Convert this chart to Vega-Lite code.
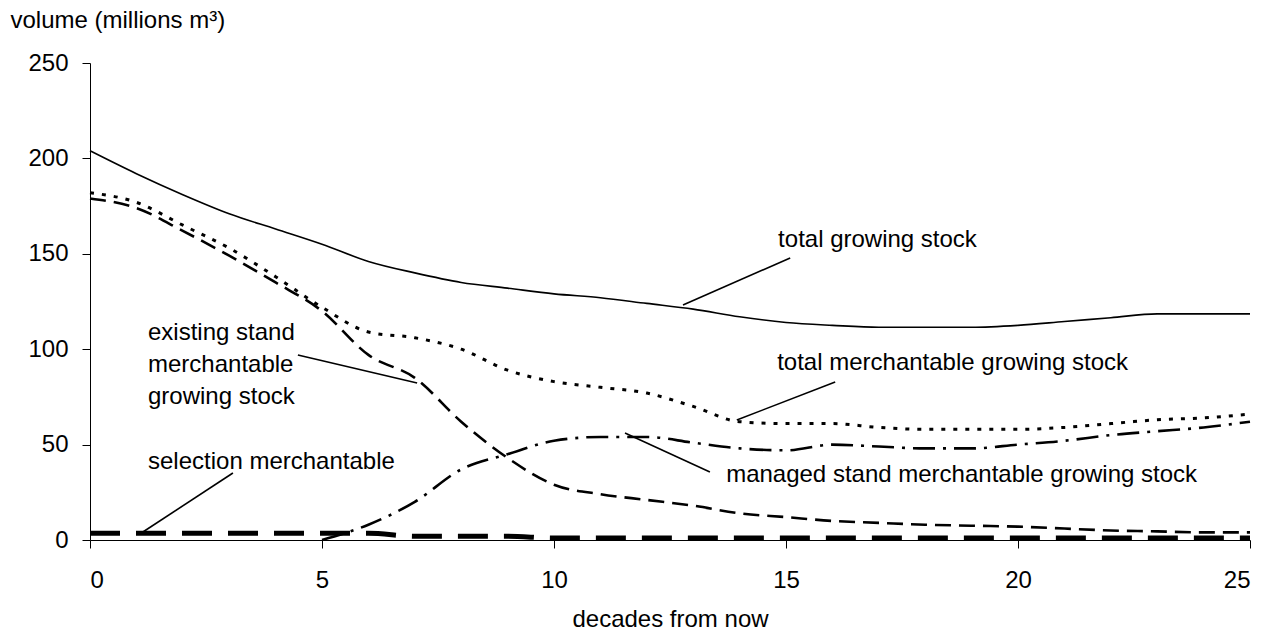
{
  "$schema": "https://vega.github.io/schema/vega-lite/v6.json",
  "width": 1160,
  "height": 477,
  "autosize": {"type": "none"},
  "padding": {"left": 90, "top": 63, "right": 20, "bottom": 92},
  "background": "white",
  "config": {
    "view": {"stroke": null},
    "font": "Liberation Sans",
    "axis": {
      "grid": false,
      "domainColor": "black",
      "domainWidth": 1,
      "tickColor": "black",
      "tickSize": 8,
      "labelFont": "Liberation Sans",
      "labelFontSize": 24,
      "labelColor": "black",
      "titleFont": "Liberation Sans",
      "titleFontSize": 24,
      "titleFontWeight": "normal",
      "titleColor": "black"
    }
  },
  "datasets": {
    "series": [
      {"s": "total", "d": 0, "v": 204}, {"s": "total", "d": 1, "v": 192}, {"s": "total", "d": 2, "v": 181}, {"s": "total", "d": 3, "v": 171}, {"s": "total", "d": 4, "v": 163}, {"s": "total", "d": 5, "v": 155}, {"s": "total", "d": 6, "v": 146}, {"s": "total", "d": 7, "v": 140}, {"s": "total", "d": 8, "v": 135}, {"s": "total", "d": 9, "v": 132}, {"s": "total", "d": 10, "v": 129}, {"s": "total", "d": 11, "v": 127}, {"s": "total", "d": 12, "v": 124}, {"s": "total", "d": 13, "v": 121}, {"s": "total", "d": 14, "v": 117}, {"s": "total", "d": 15, "v": 114}, {"s": "total", "d": 16, "v": 112.5}, {"s": "total", "d": 17, "v": 111.5}, {"s": "total", "d": 18, "v": 111.5}, {"s": "total", "d": 19, "v": 111.5}, {"s": "total", "d": 20, "v": 112.5}, {"s": "total", "d": 21, "v": 114.5}, {"s": "total", "d": 22, "v": 116.5}, {"s": "total", "d": 23, "v": 118.5}, {"s": "total", "d": 24, "v": 118.5}, {"s": "total", "d": 25, "v": 118.5},
      {"s": "merch", "d": 0, "v": 182}, {"s": "merch", "d": 1, "v": 177}, {"s": "merch", "d": 2, "v": 165}, {"s": "merch", "d": 3, "v": 153}, {"s": "merch", "d": 4, "v": 138}, {"s": "merch", "d": 5, "v": 122}, {"s": "merch", "d": 6, "v": 109}, {"s": "merch", "d": 7, "v": 106}, {"s": "merch", "d": 8, "v": 100}, {"s": "merch", "d": 9, "v": 89}, {"s": "merch", "d": 10, "v": 83}, {"s": "merch", "d": 11, "v": 80}, {"s": "merch", "d": 12, "v": 77}, {"s": "merch", "d": 13, "v": 70}, {"s": "merch", "d": 14, "v": 62}, {"s": "merch", "d": 15, "v": 61}, {"s": "merch", "d": 16, "v": 61}, {"s": "merch", "d": 17, "v": 59}, {"s": "merch", "d": 18, "v": 58}, {"s": "merch", "d": 19, "v": 58}, {"s": "merch", "d": 20, "v": 58}, {"s": "merch", "d": 21, "v": 59}, {"s": "merch", "d": 22, "v": 61}, {"s": "merch", "d": 23, "v": 63}, {"s": "merch", "d": 24, "v": 64}, {"s": "merch", "d": 25, "v": 66},
      {"s": "existing", "d": 0, "v": 179}, {"s": "existing", "d": 1, "v": 174}, {"s": "existing", "d": 2, "v": 162}, {"s": "existing", "d": 3, "v": 149}, {"s": "existing", "d": 4, "v": 135}, {"s": "existing", "d": 5, "v": 120}, {"s": "existing", "d": 6, "v": 97}, {"s": "existing", "d": 7, "v": 85}, {"s": "existing", "d": 8, "v": 62}, {"s": "existing", "d": 9, "v": 43}, {"s": "existing", "d": 10, "v": 29}, {"s": "existing", "d": 11, "v": 24}, {"s": "existing", "d": 12, "v": 21}, {"s": "existing", "d": 13, "v": 18}, {"s": "existing", "d": 14, "v": 14}, {"s": "existing", "d": 15, "v": 12}, {"s": "existing", "d": 16, "v": 10}, {"s": "existing", "d": 17, "v": 9}, {"s": "existing", "d": 18, "v": 8}, {"s": "existing", "d": 19, "v": 7.5}, {"s": "existing", "d": 20, "v": 7}, {"s": "existing", "d": 21, "v": 6}, {"s": "existing", "d": 22, "v": 5}, {"s": "existing", "d": 23, "v": 4.5}, {"s": "existing", "d": 24, "v": 4}, {"s": "existing", "d": 25, "v": 4},
      {"s": "managed", "d": 5, "v": 0}, {"s": "managed", "d": 6, "v": 8}, {"s": "managed", "d": 7, "v": 20}, {"s": "managed", "d": 8, "v": 37}, {"s": "managed", "d": 9, "v": 45}, {"s": "managed", "d": 10, "v": 52}, {"s": "managed", "d": 11, "v": 54}, {"s": "managed", "d": 12, "v": 54}, {"s": "managed", "d": 13, "v": 51}, {"s": "managed", "d": 14, "v": 48}, {"s": "managed", "d": 15, "v": 47}, {"s": "managed", "d": 16, "v": 50}, {"s": "managed", "d": 17, "v": 49}, {"s": "managed", "d": 18, "v": 48}, {"s": "managed", "d": 19, "v": 48}, {"s": "managed", "d": 20, "v": 50}, {"s": "managed", "d": 21, "v": 52}, {"s": "managed", "d": 22, "v": 55}, {"s": "managed", "d": 23, "v": 57}, {"s": "managed", "d": 24, "v": 59}, {"s": "managed", "d": 25, "v": 62},
      {"s": "selection", "d": 0, "v": 3.5}, {"s": "selection", "d": 1, "v": 3.5}, {"s": "selection", "d": 2, "v": 3.5}, {"s": "selection", "d": 3, "v": 3.5}, {"s": "selection", "d": 4, "v": 3.5}, {"s": "selection", "d": 5, "v": 3.5}, {"s": "selection", "d": 6, "v": 3.5}, {"s": "selection", "d": 7, "v": 2}, {"s": "selection", "d": 8, "v": 2}, {"s": "selection", "d": 9, "v": 2}, {"s": "selection", "d": 10, "v": 1}, {"s": "selection", "d": 11, "v": 1}, {"s": "selection", "d": 12, "v": 1}, {"s": "selection", "d": 13, "v": 1}, {"s": "selection", "d": 14, "v": 1}, {"s": "selection", "d": 15, "v": 1}, {"s": "selection", "d": 16, "v": 1}, {"s": "selection", "d": 17, "v": 1}, {"s": "selection", "d": 18, "v": 1}, {"s": "selection", "d": 19, "v": 1}, {"s": "selection", "d": 20, "v": 1}, {"s": "selection", "d": 21, "v": 1}, {"s": "selection", "d": 22, "v": 1}, {"s": "selection", "d": 23, "v": 1}, {"s": "selection", "d": 24, "v": 1}, {"s": "selection", "d": 25, "v": 1}
    ],
    "leaders": [
      {"x1": 12.78, "y1": 123.2, "x2": 15.09, "y2": 147.8},
      {"x1": 13.94, "y1": 62.9, "x2": 16.06, "y2": 82.8},
      {"x1": 11.53, "y1": 56.1, "x2": 13.36, "y2": 35.6},
      {"x1": 4.48, "y1": 97.0, "x2": 7.05, "y2": 82.3},
      {"x1": 3.08, "y1": 35.1, "x2": 1.14, "y2": 4.2}
    ],
    "labels": [
      {"x": 14.83, "y": 157.2, "t": "total growing stock"},
      {"x": 14.81, "y": 92.8, "t": "total merchantable growing stock"},
      {"x": 13.71, "y": 34.1, "t": "managed stand merchantable growing stock"},
      {"x": 1.25, "y": 108.5, "t": "existing stand"},
      {"x": 1.25, "y": 91.7, "t": "merchantable"},
      {"x": 1.25, "y": 74.9, "t": "growing stock"},
      {"x": 1.25, "y": 40.9, "t": "selection merchantable"}
    ]
  },
  "encoding": {
    "x": {
      "field": "d", "type": "quantitative",
      "scale": {"domain": [0, 25], "nice": false, "zero": false},
      "axis": {"values": [0, 5, 10, 15, 20, 25], "labelPadding": 20, "title": "decades from now", "titleY": 86, "titleBaseline": "alphabetic"}
    },
    "y": {
      "field": "v", "type": "quantitative",
      "scale": {"domain": [0, 250], "nice": false},
      "axis": {"values": [0, 50, 100, 150, 200, 250], "labelPadding": 14, "title": "volume (millions m³)", "titleAngle": 0, "titleAlign": "left", "titleBaseline": "alphabetic", "titleX": -80, "titleY": -36}
    }
  },
  "layer": [
    {
      "data": {"name": "series"},
      "transform": [{"filter": "datum.s === 'total'"}],
      "mark": {"type": "line", "color": "black", "interpolate": "monotone", "strokeWidth": 1.6}
    },
    {
      "data": {"name": "series"},
      "transform": [{"filter": "datum.s === 'merch'"}],
      "mark": {"type": "line", "color": "black", "interpolate": "monotone", "strokeWidth": 3, "strokeDash": [4, 8]}
    },
    {
      "data": {"name": "series"},
      "transform": [{"filter": "datum.s === 'existing'"}],
      "mark": {"type": "line", "color": "black", "interpolate": "monotone", "strokeWidth": 2.6, "strokeDash": [16, 8]}
    },
    {
      "data": {"name": "series"},
      "transform": [{"filter": "datum.s === 'managed'"}],
      "mark": {"type": "line", "color": "black", "interpolate": "monotone", "strokeWidth": 2.6, "strokeDash": [22, 8, 3, 8]}
    },
    {
      "data": {"name": "series"},
      "transform": [{"filter": "datum.s === 'selection'"}],
      "mark": {"type": "line", "color": "black", "interpolate": "monotone", "strokeWidth": 5, "strokeDash": [30, 16]}
    },
    {
      "data": {"name": "leaders"},
      "mark": {"type": "rule", "color": "black", "strokeWidth": 1.6},
      "encoding": {
        "x": {"field": "x1", "type": "quantitative"},
        "y": {"field": "y1", "type": "quantitative"},
        "x2": {"field": "x2"},
        "y2": {"field": "y2"}
      }
    },
    {
      "data": {"name": "labels"},
      "mark": {"type": "text", "align": "left", "baseline": "middle", "fontSize": 24, "font": "Liberation Sans", "color": "black"},
      "encoding": {
        "x": {"field": "x", "type": "quantitative"},
        "y": {"field": "y", "type": "quantitative"},
        "text": {"field": "t"}
      }
    }
  ]
}
